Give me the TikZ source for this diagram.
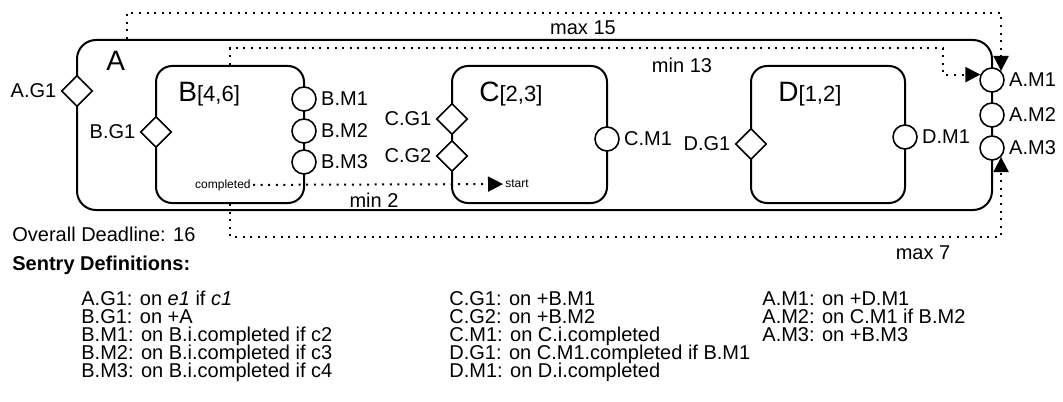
\documentclass[tikz,border=0pt]{standalone}
\usepackage{fontspec}
\setmainfont{Liberation Sans}
\usetikzlibrary{arrows.meta,shapes.geometric}

\tikzset{
  stage/.style={draw, line width=1pt, rounded corners=8pt, inner sep=0pt},
  entry/.style={diamond, draw, fill=white, line width=0.8pt, minimum size=15.5pt, inner sep=0pt},
  milestone/.style={circle, draw, fill=white, line width=0.8pt, minimum size=12pt, inner sep=0pt},
  sentrylbl/.style={font=\fontsize{10}{12}\selectfont, inner sep=2pt},
  note/.style={font=\fontsize{10}{12}\selectfont, inner sep=0pt},
  smallnote/.style={font=\fontsize{6}{7}\selectfont, inner sep=1pt},
  timing/.style={line width=1pt, dash pattern=on 1pt off 2.8pt},
  timingarrow/.style={timing, -{Triangle[length=7.5pt,width=7.5pt]}},
}
\newcommand{\stagetitle}[2]{{\fontsize{14}{16}\selectfont #1}{\fontsize{11}{13}\selectfont[#2]}}

\begin{document}
\begin{tikzpicture}[x=0.5pt, y=-0.5pt]
    \useasboundingbox (0,0) rectangle (1063,401);

    % Stages
    \node[stage, rounded corners=9.5pt, minimum width=457.5pt, minimum height=85pt] (A) at (534.5,125) {};
    \node[stage, minimum width=74pt, minimum height=68.5pt] (B) at (230,134.5) {};
    \node[stage, minimum width=77.5pt, minimum height=68.5pt] (C) at (529.5,134.5) {};
    \node[stage, minimum width=77pt, minimum height=68.5pt] (D) at (828,134.5) {};

    % Stage titles
    \node[inner sep=0pt, anchor=base west] (Atitle) at (106,70) {\fontsize{14}{16}\selectfont A};
    \node[inner sep=0pt, anchor=base west] (Btitle) at (178,102) {\stagetitle{B}{4,6}};
    \node[inner sep=0pt, anchor=base west] (Ctitle) at (479,102) {\stagetitle{C}{2,3}};
    \node[inner sep=0pt, anchor=base west] (Dtitle) at (778,102) {\stagetitle{D}{1,2}};

    % Entry sentries
    \node[entry, label={[sentrylbl]left:A.G1}] (AG1) at (77,91) {};
    \node[entry, label={[sentrylbl]left:B.G1}] (BG1) at (156,132) {};
    \node[entry, label={[sentrylbl]left:C.G1}] (CG1) at (452,119) {};
    \node[entry, label={[sentrylbl]left:C.G2}] (CG2) at (452,156) {};
    \node[entry, label={[sentrylbl]left:D.G1}] (DG1) at (751,144) {};

    % Exit sentries
    \node[milestone, label={[sentrylbl]right:B.M1}] (BM1) at (304,99) {};
    \node[milestone, label={[sentrylbl]right:B.M2}] (BM2) at (304,131) {};
    \node[milestone, label={[sentrylbl]right:B.M3}] (BM3) at (304,162) {};
    \node[milestone, label={[sentrylbl]right:C.M1}] (CM1) at (607,139) {};
    \node[milestone, label={[sentrylbl]right:D.M1}] (DM1) at (905,137) {};
    \node[milestone, label={[sentrylbl]right:A.M1}] (AM1) at (992,80) {};
    \node[milestone, label={[sentrylbl]right:A.M2}] (AM2) at (992,115) {};
    \node[milestone, label={[sentrylbl]right:A.M3}] (AM3) at (992,148) {};

    % Timing constraints
    \node[smallnote, anchor=east] (compl) at (253,185) {completed};
    \node[smallnote, anchor=west] (start) at (503,184) {start};
    \draw[timingarrow] (compl) -- (start);
    \draw[timingarrow] (A.north -| 127,0) -- (127,13) -| (AM1.north east);
    \draw[timingarrow] (B.north) -- (230,48) -| (AM1.155 -| 943,0) -- (AM1.155);
    \draw[timingarrow] (B.south) -- (230,237) -| (AM3.south east);

    \node[note] (max15) at (583,28) {max 15};
    \node[note] (min13) at (682,65) {min 13};
    \node[note] (min2) at (374,200) {min 2};
    \node[note] (max7) at (923,253) {max 7};

    % Deadline and sentry definitions
    \node[note, anchor=base west] (deadline) at (12,241) {Overall Deadline: 16};
    \node[note, anchor=base west, font=\fontsize{10}{12}\selectfont\bfseries] (defs) at (12,270) {Sentry Definitions:};
    \foreach \txt [count=\i] in {A.G1: on \textit{e1} if \textit{c1}, B.G1: on +A,
        B.M1: on B.i.completed if c2, B.M2: on B.i.completed if c3, B.M3: on B.i.completed if c4}
        \node[note, anchor=base west] (colA\i) at (81,{305+18*(\i-1)}) {\txt};
    \foreach \txt [count=\i] in {C.G1: on +B.M1, C.G2: on +B.M2, C.M1: on C.i.completed,
        D.G1: on C.M1.completed if B.M1, D.M1: on D.i.completed}
        \node[note, anchor=base west] (colB\i) at (449,{305+18*(\i-1)}) {\txt};
    \foreach \txt [count=\i] in {A.M1: on +D.M1, A.M2: on C.M1 if B.M2, A.M3: on +B.M3}
        \node[note, anchor=base west] (colC\i) at (762,{305+18*(\i-1)}) {\txt};

\end{tikzpicture}
\end{document}
